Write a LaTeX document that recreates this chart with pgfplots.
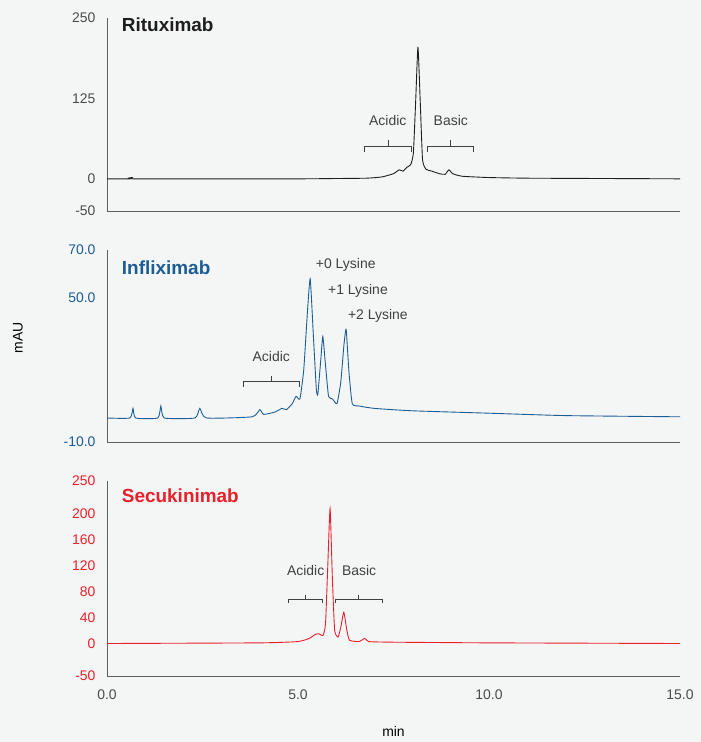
\documentclass[border=0pt]{standalone}
\usepackage{pgfplots}
\pgfplotsset{compat=1.18}
\usepackage{fontspec}
\setmainfont{Liberation Sans}
\definecolor{bg}{HTML}{F4F5F5}
\definecolor{rblk}{HTML}{1E1E1E}
\definecolor{iblue}{HTML}{1B5E96}
\definecolor{sred}{HTML}{E8202A}
\definecolor{axg}{HTML}{606060}
\newcommand{\fs}{\fontsize{14}{16}\selectfont}
\pgfplotsset{
  panel/.style={width=573bp, scale only axis, xmin=0, xmax=15,
    axis x line*=bottom, axis y line*=left, axis line style={axg, -},
    tick style={axg}, major tick length=0pt,
    /pgf/number format/assume math mode=true,
    ticklabel style={font=\fs},
    yticklabel style={xshift=-8bp},
    clip=false},
}
\newcommand{\brk}[4]{% x1 x2 y h
  \draw[rblk!85, line width=0.8pt] (axis cs:#1,#3) -- (axis cs:#1,#3+#4) -- (axis cs:{(#1+#2)/2},#3+#4) -- (axis cs:{(#1+#2)/2},#3+2*#4)
   (axis cs:{(#1+#2)/2},#3+#4) -- (axis cs:#2,#3+#4) -- (axis cs:#2,#3);}
\begin{document}
\begin{tikzpicture}
\fill[bg] (-107bp,-66bp) rectangle ++(701bp,742bp);
% bottom
\begin{axis}[panel, at={(0,0)}, anchor=south west, height=195bp,
  ymin=-50, ymax=250, ytick={-50,0,40,80,120,160,200,250},
  yticklabel style={sred}, xtick={0,5,10,15},
  xticklabels={0.0,5.0,10.0,15.0}, xticklabel style={rblk!80, yshift=-10bp},
  xlabel={min}, xlabel style={font=\fs, yshift=-20bp}]
\addplot[sred, line width=0.9pt, smooth, tension=0.3] coordinates {
(0,0) (4,1) (5,3) (5.3,8) (5.45,14) (5.55,15) (5.65,12) (5.72,30) (5.78,120) (5.84,208) (5.9,100) (5.96,20) (6.05,10) (6.12,25) (6.2,48) (6.28,20) (6.35,5) (6.6,3) (6.75,8) (6.85,3) (7.5,2) (10,1) (15,0)};
\node[anchor=west, sred, font=\fontsize{19}{21}\selectfont\bfseries] at (axis cs:0.3,228) {Secukinimab};
\brk{4.74}{5.65}{62}{6}
\brk{5.97}{7.2}{62}{6}
\node[rblk!85, font=\fs] at (axis cs:5.2,112) {Acidic};
\node[rblk!85, font=\fs] at (axis cs:6.6,112) {Basic};
\end{axis}
% middle
\begin{axis}[panel, at={(0,234bp)}, anchor=south west, height=192bp,
  ymin=-10, ymax=70, ytick={-10,50,70}, yticklabels={-10.0,50.0,70.0},
  yticklabel style={iblue}, xtick=\empty,
  ylabel={mAU}, ylabel style={font=\fs, xshift=8bp, yshift=34bp}]
\addplot[iblue, line width=0.9pt, smooth, tension=0.3] coordinates {
(0,0) (0.6,0) (0.68,4) (0.75,0) (1.33,0) (1.41,5) (1.5,0) (2.3,0) (2.43,4) (2.6,0) (3.8,0.5) (4.0,3.5) (4.1,1.5) (4.4,2.5) (4.58,4) (4.7,3.5) (4.85,6) (4.95,9) (5.05,8) (5.15,20) (5.25,45) (5.32,58) (5.4,35) (5.48,12) (5.52,10) (5.6,25) (5.65,34) (5.72,22) (5.8,9) (5.9,8) (6.02,6) (6.12,15) (6.2,30) (6.26,37) (6.33,20) (6.42,6) (6.6,5) (7,4) (8,3) (10,2) (12,1) (15,0.5)};
\node[anchor=west, iblue, font=\fontsize{19}{21}\selectfont\bfseries] at (axis cs:0.3,62.5) {Infliximab};
\brk{3.56}{5.03}{13}{2.2}
\node[rblk!85, font=\fs] at (axis cs:4.3,25.5) {Acidic};
\node[rblk!85, font=\fs] at (axis cs:6.25,63.8) {+0 Lysine};
\node[rblk!85, font=\fs] at (axis cs:6.57,53) {+1 Lysine};
\node[rblk!85, font=\fs] at (axis cs:7.09,42.5) {+2 Lysine};
\end{axis}
% top
\begin{axis}[panel, at={(0,465bp)}, anchor=south west, height=193bp,
  ymin=-50, ymax=250, ytick={-50,0,125,250},
  yticklabel style={rblk!80}, xtick=\empty]
\addplot[rblk, line width=0.9pt, smooth, tension=0.3] coordinates {
(0,0) (0.6,0) (0.66,2) (0.72,0) (5,0) (6,0.5) (6.8,1) (7.2,3) (7.5,8) (7.65,14) (7.75,12) (7.85,18) (7.95,22) (8.02,40) (8.08,120) (8.14,205) (8.2,120) (8.26,30) (8.35,15) (8.5,12) (8.7,8) (8.85,7) (8.95,14) (9.05,8) (9.3,4) (10,2) (11,1) (13,0.5) (15,0)};
\node[anchor=west, rblk, font=\fontsize{19}{21}\selectfont\bfseries] at (axis cs:0.3,240) {Rituximab};
\brk{6.75}{7.96}{42}{9}
\brk{8.4}{9.6}{42}{9}
\node[rblk!85, font=\fs] at (axis cs:7.35,90) {Acidic};
\node[rblk!85, font=\fs] at (axis cs:9.0,90) {Basic};
\end{axis}
\end{tikzpicture}
\end{document}
